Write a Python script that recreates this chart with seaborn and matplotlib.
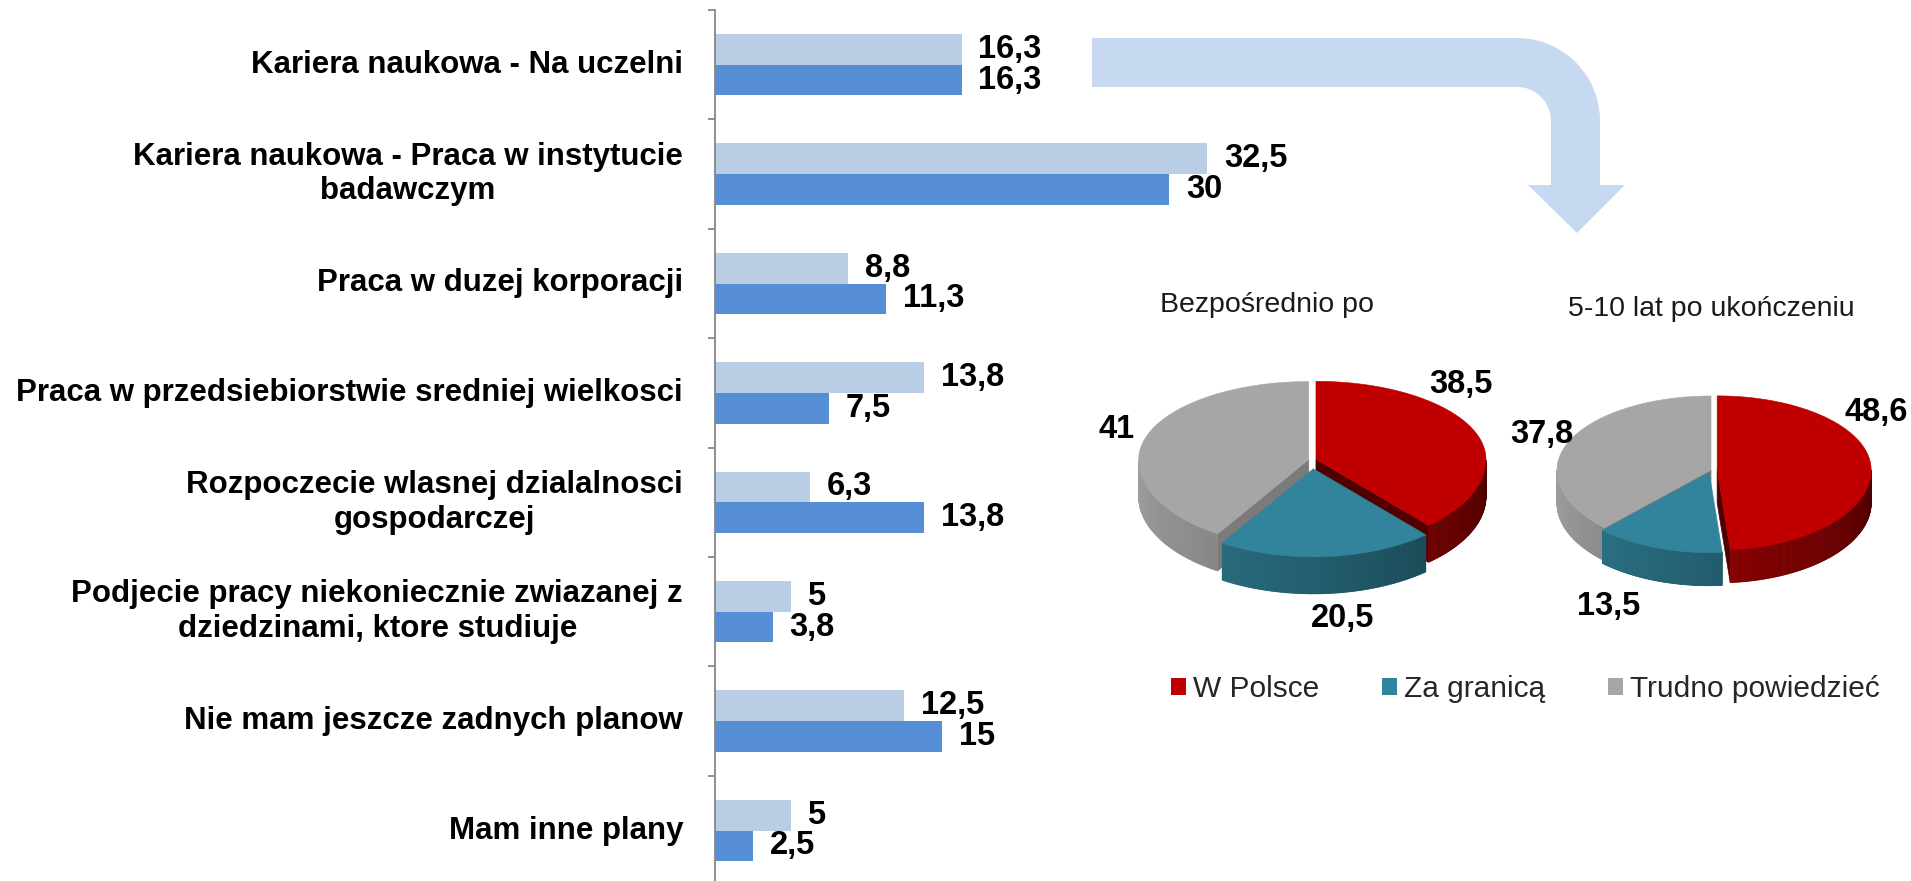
import numpy as np
import pandas as pd
import matplotlib
matplotlib.use("Agg")
import matplotlib.pyplot as plt
import matplotlib.colors as mcolors
from matplotlib.patches import Polygon, Rectangle
import seaborn as sns

# ---- data -------------------------------------------------------------
categories = [
    "Kariera naukowa - Na uczelni",
    "Kariera naukowa - Praca w instytucie\nbadawczym",
    "Praca w duzej korporacji",
    "Praca w przedsiebiorstwie sredniej wielkosci",
    "Rozpoczecie wlasnej dzialalnosci\ngospodarczej",
    "Podjecie pracy niekoniecznie zwiazanej z\ndziedzinami, ktore studiuje",
    "Nie mam jeszcze zadnych planow",
    "Mam inne plany",
]
series_names = ["seria 1", "seria 2"]
values_light = [16.3, 32.5, 8.8, 13.8, 6.3, 5, 12.5, 5]
values_dark = [16.3, 30, 11.3, 7.5, 13.8, 3.8, 15, 2.5]

pie_labels = ["W Polsce", "Za granicą", "Trudno powiedzieć"]
pie_titles = ["Bezpośrednio po", "5-10 lat po ukończeniu"]
pie_now = [38.5, 20.5, 41]
pie_later = [48.6, 13.5, 37.8]

# ---- style ------------------------------------------------------------
sns.set_theme(style="white")
plt.rcParams["font.family"] = ["Liberation Sans", "DejaVu Sans"]

BAR_COLORS = ["#B9CDE5", "#558ED5"]
PIE_COLORS = ["#C00000", "#31849B", "#A6A6A6"]
ARROW_COLOR = "#C6D9F1"
AXIS_COLOR = "#878787"
W, H = 1911, 881
LABEL_SIZE = 22.5
VALUE_SIZE = 23.5


def fmt(v):
    return f"{v:g}".replace(".", ",")


fig = plt.figure(figsize=(W / 100, H / 100), dpi=100)
fig.patch.set_facecolor("white")

# ---- horizontal grouped bars -------------------------------------------
df = pd.DataFrame({
    "kategoria": categories * 2,
    "wartosc": values_light + values_dark,
    "seria": [series_names[0]] * len(categories) + [series_names[1]] * len(categories),
})

ax = fig.add_axes([715 / W, -4.2 / H, 605.6 / W, 875.2 / H])
sns.barplot(data=df, x="wartosc", y="kategoria", hue="seria", order=categories,
            hue_order=series_names, palette=BAR_COLORS, orient="h", width=0.56,
            saturation=1, linewidth=0, legend=False, ax=ax)
ax.set_xlim(0, 40)
ax.set_ylim(len(categories) - 0.5, -0.5)
ax.set_xlabel("")
ax.set_ylabel("")
ax.xaxis.set_visible(False)
for side in ("top", "right", "bottom"):
    ax.spines[side].set_visible(False)
ax.spines["left"].set_color(AXIS_COLOR)
ax.spines["left"].set_linewidth(1.3)
ax.set_facecolor("none")

ax.set_yticks(np.arange(-0.5, len(categories) + 0.5, 1), minor=True)
ax.tick_params(axis="y", which="minor", length=5, width=1.3, color=AXIS_COLOR,
               direction="out", left=True)
ax.tick_params(axis="y", which="major", length=0, pad=23)
for lab in ax.get_yticklabels():
    lab.set_fontsize(LABEL_SIZE)
    lab.set_fontweight("bold")
    lab.set_color("black")
    lab.set_multialignment("center")
    lab.set_verticalalignment("center")

for cont, vals in zip(ax.containers, (values_light, values_dark)):
    ax.bar_label(cont, labels=[fmt(v) for v in vals], padding=12,
                 fontsize=VALUE_SIZE, fontweight="bold", color="black")

# ---- overlay in pixel coordinates: arrow and 3D pies --------------------
ov = fig.add_axes([0, 0, 1, 1])
ov.set_xlim(0, W)
ov.set_ylim(H, 0)
ov.axis("off")
ov.patch.set_alpha(0)

# bent arrow leading from the bars to the pies
cxa, cya, r_out, r_in = 1517, 121, 83, 34
arc_o = [(cxa + r_out * np.sin(t), cya - r_out * np.cos(t)) for t in np.linspace(0, np.pi / 2, 40)]
arc_i = [(cxa + r_in * np.sin(t), cya - r_in * np.cos(t)) for t in np.linspace(np.pi / 2, 0, 40)]
arrow = ([(1092, 38)] + arc_o + [(1600, 185), (1625, 185), (1577, 233), (1528, 185), (1551, 185)]
         + arc_i + [(1092, 87)])
ov.add_patch(Polygon(arrow, closed=True, fc=ARROW_COLOR, ec="none", zorder=1))


def wall_shade(theta):
    t = np.mod(theta, 360.0)
    t = np.clip(t, 180, 360)
    return 0.95 - 0.55 * ((t - 180) / 180.0) ** 1.2


def draw_pie3d(ax, values, colors, cx, cy, rx, ry_back, ry_front, depth, explode, cut_shade):
    total = float(sum(values))
    edges = 90 - np.cumsum([0] + list(values)) / total * 360

    def pt(theta, ox, oy):
        t = np.deg2rad(theta)
        s = np.sin(t)
        ry = np.where(s > 0, ry_back, ry_front)
        return cx + ox + rx * np.cos(t), cy + oy - ry * s

    wedges = []
    for i in range(len(values)):
        hi, lo = edges[i], edges[i + 1]
        mid = np.deg2rad((hi + lo) / 2)
        ry = ry_back if np.sin(mid) > 0 else ry_front
        ox = explode[i] * rx * np.cos(mid)
        oy = -explode[i] * ry * np.sin(mid)
        wedges.append((lo, hi, mid, ox, oy, i))

    for lo, hi, mid, ox, oy, i in sorted(wedges, key=lambda w: -np.sin(w[2])):
        base = np.array(mcolors.to_rgb(colors[i]))
        ax0, ay0 = cx + ox, cy + oy
        # radial cut faces that face the viewer
        for ang, nrm in ((lo, lo - 90), (hi, hi + 90)):
            if np.sin(np.deg2rad(nrm)) < -1e-6:
                x2, y2 = pt(ang, ox, oy)
                c = base * cut_shade[i]
                ax.add_patch(Polygon([(ax0, ay0), (x2, y2), (x2, y2 + depth), (ax0, ay0 + depth)],
                                     closed=True, fc=c, ec=c, lw=0.5, zorder=2))
        # curved outer wall on the front half
        th = np.linspace(lo, hi, 240)
        front = np.sin(np.deg2rad(th)) < 0
        for a, b, fa, fb in zip(th[:-1], th[1:], front[:-1], front[1:]):
            if not (fa and fb):
                continue
            xa, ya = pt(a, ox, oy)
            xb, yb = pt(b, ox, oy)
            c = np.clip(base * wall_shade((a + b) / 2), 0, 1)
            ax.add_patch(Polygon([(xa, ya), (xb, yb), (xb, yb + depth), (xa, ya + depth)],
                                 closed=True, fc=c, ec=c, lw=0.6, zorder=2))
        # top face
        xs, ys = pt(th, ox, oy)
        ax.add_patch(Polygon([(ax0, ay0)] + list(zip(xs, ys)), closed=True,
                             fc=base, ec=base, lw=0.4, zorder=3))


pies = [
    dict(values=pie_now, title=pie_titles[0], cx=1312, cy=460, rx=170, ry_back=78, ry_front=88,
         depth=37, explode=[0.025, 0.1, 0.02], title_off=(-45, -155),
         label_off=[(149, -75), (31, 158), (-195, -30)]),
    dict(values=pie_later, title=pie_titles[1], cx=1711, cy=470, rx=154, ry_back=74, ry_front=80,
         depth=33, explode=[0.04, 0.035, 0.0], title_off=(0, -161),
         label_off=[(165, -57), (-102, 137), (-169, -36)]),
]
for p in pies:
    draw_pie3d(ov, p["values"], PIE_COLORS, p["cx"], p["cy"], p["rx"], p["ry_back"],
               p["ry_front"], p["depth"], p["explode"], cut_shade=[0.42, 0.5, 0.74])
    for v, (dx, dy) in zip(p["values"], p["label_off"]):
        ov.text(p["cx"] + dx, p["cy"] + dy, fmt(v), ha="center", va="center",
                fontsize=VALUE_SIZE, fontweight="bold", color="black", zorder=5)
    ov.text(p["cx"] + p["title_off"][0], p["cy"] + p["title_off"][1], p["title"],
            ha="center", va="center", fontsize=20.5, color="#1a1a1a", zorder=5)

handles = [Rectangle((0, 0), 1, 1, fc=c, ec="none") for c in PIE_COLORS]
fig.legend(handles, pie_labels, loc="center", bbox_to_anchor=(0.798, 0.218), ncol=3,
           frameon=False, fontsize=21.5, handlelength=0.52, handleheight=0.52,
           handletextpad=0.22, columnspacing=2.1)

fig.savefig("out.png", dpi=100, facecolor="white")
